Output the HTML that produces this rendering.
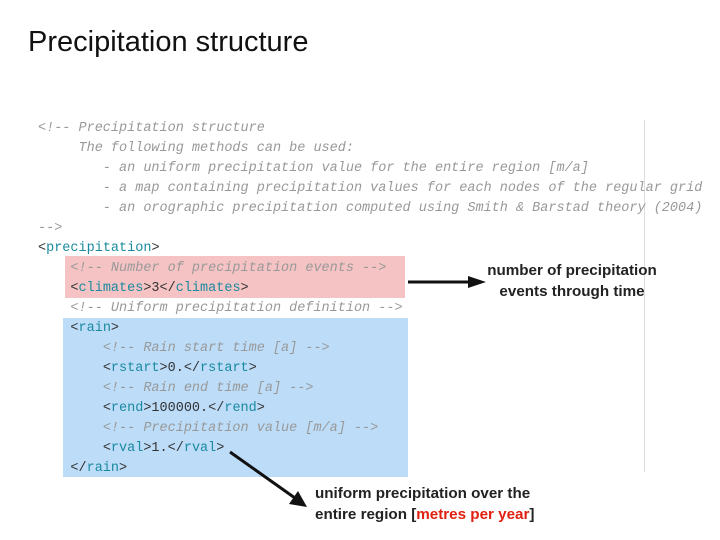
<!DOCTYPE html>
<html><head><style>
body{margin:0;width:720px;height:540px;background:#fff;position:relative;overflow:hidden;font-family:"Liberation Sans",sans-serif}
.t{position:absolute;left:28px;top:26px;font-size:29px;color:#111}
.c{position:absolute;font-family:"Liberation Mono",monospace;font-size:13.5px;white-space:pre;line-height:20px}
.cm{color:#999;font-style:italic}
.tg{color:#1a8aa0}
.k{color:#333}
.box{position:absolute}
.lbl{position:absolute;font-size:15.2px;font-weight:bold;color:#222;text-align:center;line-height:21px}
</style></head><body>
<div class="t">Precipitation structure</div>
<div class="box" style="left:65px;top:256px;width:340px;height:42px;background:#f5c3c3"></div>
<div class="box" style="left:63px;top:318px;width:345px;height:159px;background:#bcdcf8"></div>
<div class="box" style="left:644px;top:120px;width:1px;height:352px;background:#ddd"></div>
<div class="c" style="left:38px;top:119px"><span class="cm">&lt;!-- Precipitation structure
     The following methods can be used:
        - an uniform precipitation value for the entire region [m/a]
        - a map containing precipitation values for each nodes of the regular grid
        - an orographic precipitation computed using Smith &amp; Barstad theory (2004)
--&gt;</span>
<span class="k">&lt;</span><span class="tg">precipitation</span><span class="k">&gt;</span>
    <span class="cm">&lt;!-- Number of precipitation events --&gt;</span>
    <span class="k">&lt;</span><span class="tg">climates</span><span class="k">&gt;3&lt;/</span><span class="tg">climates</span><span class="k">&gt;</span>
    <span class="cm">&lt;!-- Uniform precipitation definition --&gt;</span>
    <span class="k">&lt;</span><span class="tg">rain</span><span class="k">&gt;</span>
        <span class="cm">&lt;!-- Rain start time [a] --&gt;</span>
        <span class="k">&lt;</span><span class="tg">rstart</span><span class="k">&gt;0.&lt;/</span><span class="tg">rstart</span><span class="k">&gt;</span>
        <span class="cm">&lt;!-- Rain end time [a] --&gt;</span>
        <span class="k">&lt;</span><span class="tg">rend</span><span class="k">&gt;100000.&lt;/</span><span class="tg">rend</span><span class="k">&gt;</span>
        <span class="cm">&lt;!-- Precipitation value [m/a] --&gt;</span>
        <span class="k">&lt;</span><span class="tg">rval</span><span class="k">&gt;1.&lt;/</span><span class="tg">rval</span><span class="k">&gt;</span>
    <span class="k">&lt;/</span><span class="tg">rain</span><span class="k">&gt;</span></div>
<svg style="position:absolute;left:0;top:0" width="720" height="540">
<line x1="408" y1="282" x2="470" y2="282" stroke="#111" stroke-width="3"/>
<polygon points="468,276 486,282 468,288" fill="#111"/>
<line x1="230" y1="452" x2="295" y2="498" stroke="#111" stroke-width="3"/>
<polygon points="289,504 307,507 298,491" fill="#111"/>
</svg>
<div class="lbl" style="left:472px;top:260px;width:200px">number of precipitation<br>events through time</div>
<div class="lbl" style="left:315px;top:483px;text-align:left">uniform precipitation over the<br>entire region [<span style="color:#e02010">metres per year</span>]</div>
</body></html>
